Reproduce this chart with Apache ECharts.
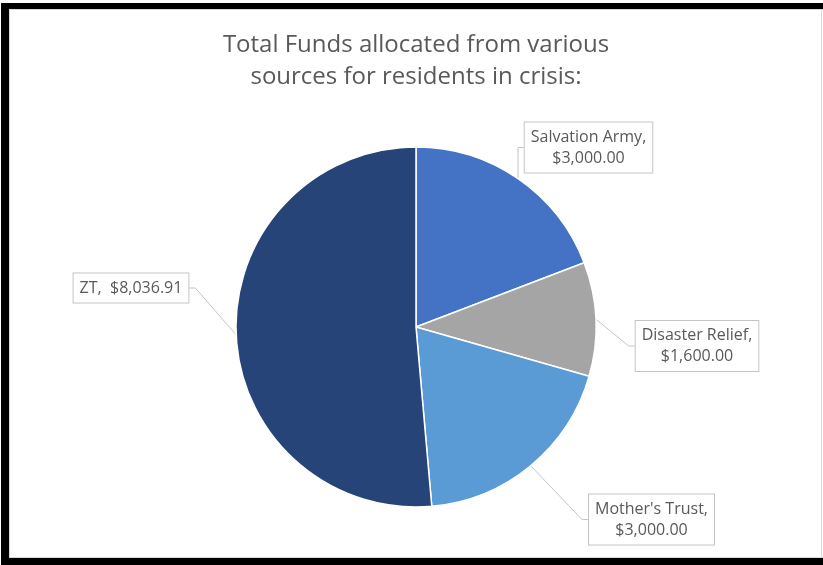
<!DOCTYPE html>
<html><head><meta charset="utf-8">
<script src="https://cdn.jsdelivr.net/npm/echarts@6/dist/echarts.min.js"></script>
<style>
html,body{margin:0;padding:0;background:#fff;}
#wrap{position:relative;width:823px;height:565px;overflow:hidden;background:#fff;}
.b{position:absolute;background:#000;}
.g{position:absolute;background:#d9d9d9;}
#chart{position:absolute;left:0;top:0;width:823px;height:565px;}
</style></head><body>
<div id="wrap">
<div class="b" style="left:1px;top:3px;width:822px;height:6px"></div>
<div class="b" style="left:1px;top:3px;width:8px;height:562px"></div>
<div class="b" style="left:1px;top:558px;width:822px;height:7px"></div>
<div class="g" style="left:9px;top:9px;width:1px;height:549px"></div>
<div class="g" style="left:9px;top:9px;width:814px;height:1px"></div>
<div class="g" style="left:9px;top:557px;width:814px;height:1px"></div>
<div class="g" style="left:821px;top:9px;width:1px;height:549px"></div>
<div id="chart"></div>
</div>
<script>
// ---- data ----
const categories = ['Salvation Army', 'Disaster Relief', "Mother's Trust", 'ZT'];
const values = [3000, 1600, 3000, 8036.91];
const sliceColors = ['#4472C4', '#A5A5A5', '#5B9BD5', '#264478'];
const titleLines = ['Total Funds allocated from various', 'sources for residents in crisis:'];
const labelSeparators = ['\n', '\n', '\n', '  '];

// ---- layout (label box centres) ----
const labelCenters = [[588.5, 147.5], [697, 346], [651.5, 519.5], [131, 288]];

function fmtMoney(v) {
  return '$' + v.toLocaleString('en-US', {minimumFractionDigits: 2, maximumFractionDigits: 2});
}

const chart = echarts.init(document.getElementById('chart'), null, {renderer: 'canvas'});
const FONT = "'Open Sans', 'Noto Sans', sans-serif";

chart.setOption({
  animation: false,
  backgroundColor: 'transparent',
  graphic: [{
    type: 'text',
    x: 416, y: 61,
    style: {
      text: titleLines.join('\n'),
      align: 'center', verticalAlign: 'middle',
      fontFamily: FONT, fontSize: 24, lineHeight: 32,
      fill: '#595959'
    }
  }],
  series: [{
    type: 'pie',
    center: [416, 327],
    radius: 180,
    startAngle: 90,
    clockwise: true,
    avoidLabelOverlap: false,
    emphasis: {disabled: true},
    itemStyle: {borderColor: '#ffffff', borderWidth: 1.5},
    label: {
      show: true,
      position: 'outside',
      backgroundColor: '#ffffff',
      borderColor: '#c4c4c4',
      borderWidth: 1,
      padding: [4, 6],
      formatter: function (p) {
        const i = p.dataIndex;
        const sep = labelSeparators[i];
        const v = fmtMoney(p.value);
        if (sep === '\n') return '{a|' + p.name + ',}\n{a|' + v + '}';
        return '{a|' + p.name + ',' + sep + v + '}';
      },
      rich: {
        a: {fontFamily: FONT, fontSize: 16, lineHeight: 21, color: '#595959', align: 'center'}
      }
    },
    labelLine: {show: true, length: 10, length2: 6, lineStyle: {color: '#c4c4c4', width: 1}},
    labelLayout: function (p) {
      const c = labelCenters[p.dataIndex];
      return {x: c[0], y: c[1], align: 'center', verticalAlign: 'middle'};
    },
    data: categories.map(function (name, i) {
      return {name: name, value: values[i], itemStyle: {color: sliceColors[i]}};
    })
  }]
});
</script>
</body></html>
